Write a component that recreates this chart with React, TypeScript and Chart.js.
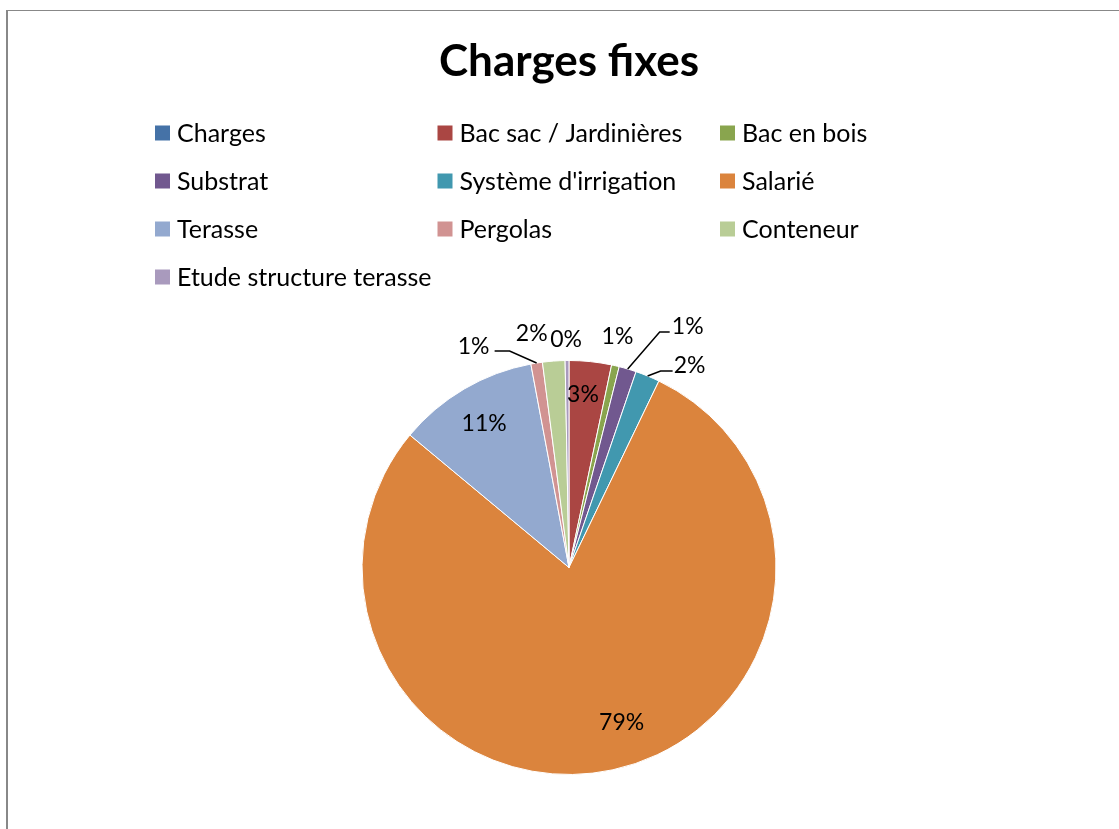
import React, { useEffect, useRef } from "react";
import { Chart, registerables } from "chart.js";

Chart.register(...registerables);

const TITLE = "Charges fixes";
const CATEGORIES = [
  "Charges",
  "Bac sac / Jardinières",
  "Bac en bois",
  "Substrat",
  "Système d'irrigation",
  "Salarié",
  "Terasse",
  "Pergolas",
  "Conteneur",
  "Etude structure terasse",
];
const VALUES = [0, 3.3, 0.6, 1.35, 1.9, 78.9, 11.0, 0.9, 1.75, 0.3];
const COLORS = [
  "#4572A7",
  "#AA4643",
  "#89A54E",
  "#71588F",
  "#4198AF",
  "#DB843D",
  "#93A9CF",
  "#D19392",
  "#B9CD96",
  "#A99ABD",
];

// Label placement per slice: r = fraction of radius along the slice's mid-angle,
// dx/dy = nudge, leader = polyline points relative to the slice's outer mid-point.
type Placement = { r: number; dx: number; dy: number; leader?: [number, number][] } | null;
const LABEL_PLACEMENT: Placement[] = [
  null,
  { r: 0.84, dx: -4, dy: -1 },
  { r: 1, dx: 2, dy: -30 },
  { r: 1, dx: 60, dy: -43, leader: [[0, 0], [32, -37], [42, -37]] },
  { r: 1, dx: 42, dy: -11, leader: [[0, 0], [13, -5], [25, -5]] },
  { r: 0.79, dx: 18, dy: -6 },
  { r: 0.81, dx: 0, dy: 0 },
  { r: 1, dx: -63, dy: -17, leader: [[0, 0], [-27, -12], [-42, -12]] },
  { r: 1, dx: -22, dy: -28 },
  { r: 1, dx: -1, dy: -22 },
];

const FONT = "Lato, 'Noto Sans', sans-serif";

const gridLegendPlugin = {
  id: "gridLegend",
  afterDraw(chart: any, _args: any, opts: any) {
    const ctx = chart.ctx;
    const labels: string[] = chart.data.labels;
    const colors: string[] = chart.data.datasets[0].backgroundColor;
    ctx.save();
    ctx.font = `${opts.fontSize}px ${FONT}`;
    ctx.textBaseline = "middle";
    ctx.textAlign = "left";
    labels.forEach((lab, i) => {
      const col = i % opts.columns;
      const row = Math.floor(i / opts.columns);
      const x = opts.left + col * opts.colWidth;
      const y = opts.top + row * opts.rowHeight;
      ctx.fillStyle = colors[i];
      ctx.fillRect(x, y - opts.box / 2, opts.box, opts.box);
      ctx.fillStyle = "#000";
      ctx.fillText(lab, x + opts.box + 7, y + 1);
    });
    ctx.restore();
  },
};

const pieLabelPlugin = {
  id: "pieLabels",
  afterDatasetsDraw(chart: any, _args: any, opts: any) {
    const ctx = chart.ctx;
    const meta = chart.getDatasetMeta(0);
    const data: number[] = chart.data.datasets[0].data;
    const total = data.reduce((a, b) => a + b, 0);
    ctx.save();
    ctx.font = `${opts.fontSize}px ${FONT}`;
    ctx.textAlign = "center";
    ctx.textBaseline = "middle";
    ctx.fillStyle = "#000";
    ctx.strokeStyle = "#000";
    ctx.lineWidth = 1.5;
    meta.data.forEach((arc: any, i: number) => {
      const p = LABEL_PLACEMENT[i];
      if (!p) return;
      const { x, y, startAngle, endAngle, outerRadius } = arc.getProps(
        ["x", "y", "startAngle", "endAngle", "outerRadius"],
        true
      );
      const mid = (startAngle + endAngle) / 2;
      const ex = x + outerRadius * Math.cos(mid);
      const ey = y + outerRadius * Math.sin(mid);
      const lx = x + p.r * outerRadius * Math.cos(mid) + p.dx;
      const ly = y + p.r * outerRadius * Math.sin(mid) + p.dy;
      if (p.leader) {
        ctx.beginPath();
        p.leader.forEach(([ox, oy], k) => {
          if (k === 0) ctx.moveTo(ex + ox, ey + oy);
          else ctx.lineTo(ex + ox, ey + oy);
        });
        ctx.stroke();
      }
      const pct = Math.round((data[i] / total) * 100) + "%";
      ctx.fillText(pct, lx, ly + 1);
    });
    ctx.restore();
  },
};

export default function App() {
  const ref = useRef<HTMLCanvasElement | null>(null);
  useEffect(() => {
    if (!ref.current) return;
    const chart = new Chart(ref.current, {
      type: "pie",
      data: {
        labels: CATEGORIES,
        datasets: [
          {
            data: VALUES,
            backgroundColor: COLORS,
            borderColor: "#ffffff",
            borderWidth: 1,
          },
        ],
      },
      options: {
        responsive: false,
        animation: false,
        layout: { padding: { top: 0, left: 19, right: 0, bottom: 54 } },
        plugins: {
          legend: { display: false },
          tooltip: { enabled: false },
          title: {
            display: true,
            text: TITLE,
            color: "#000",
            font: { family: FONT, size: 44, weight: "bold", lineHeight: 1.2 },
            padding: { top: 35.6, bottom: 271.6 },
          },
          gridLegend: {
            columns: 3,
            left: 155,
            colWidth: 282.5,
            top: 133,
            rowHeight: 48,
            box: 15,
            fontSize: 25,
          },
          pieLabels: { fontSize: 23 },
        } as any,
      },
      plugins: [gridLegendPlugin, pieLabelPlugin],
    });
    return () => chart.destroy();
  }, []);

  return (
    <div style={{ position: "fixed", left: 0, top: 0, width: 1119, height: 829, overflow: "hidden", background: "#fff" }}>
      <div
        style={{
          position: "absolute",
          left: 6,
          top: 10,
          width: 1119,
          height: 829,
          borderLeft: "2px solid #888",
          borderTop: "1px solid #888",
        }}
      />
      <canvas ref={ref} width={1119} height={829} style={{ position: "absolute", left: 0, top: 0 }} />
    </div>
  );
}
